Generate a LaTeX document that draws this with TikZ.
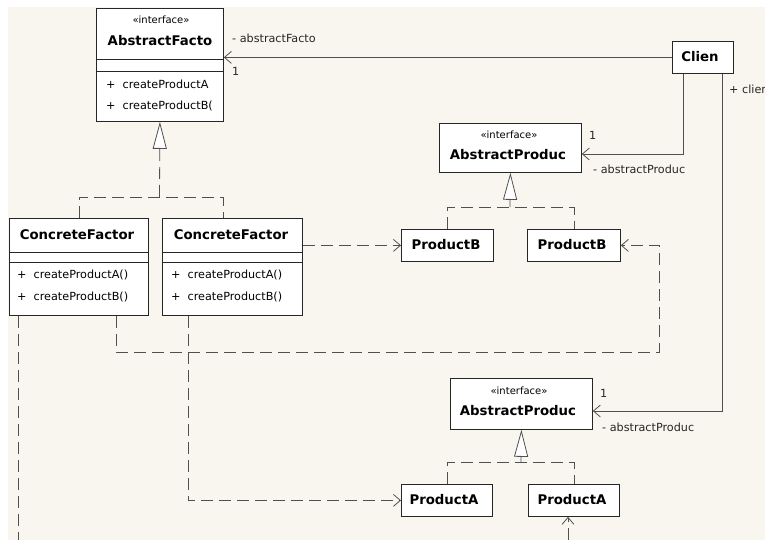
\documentclass[tikz,border=0pt]{standalone}
\usepackage{fontspec}
\setmainfont{DejaVu Sans}
\usetikzlibrary{arrows.meta}
\definecolor{bgc}{HTML}{F8F6EE}
\definecolor{linec}{HTML}{505050}
\definecolor{boxc}{HTML}{262626}
\begin{document}
\begin{tikzpicture}[x=1pt,y=-1pt,
  box/.style={draw=boxc, fill=white, line width=0.8pt, inner sep=0pt, anchor=north west},
  sepline/.style={draw=boxc, line width=0.8pt},
  title/.style={font=\fontsize{13.3}{15}\selectfont\bfseries, inner sep=0pt},
  stereo/.style={font=\fontsize{10}{12}\selectfont, inner sep=0pt},
  meth/.style={font=\fontsize{11.2}{13}\selectfont, inner sep=0pt, anchor=west},
  lbl/.style={font=\fontsize{11.2}{13}\selectfont, inner sep=0pt, anchor=west, text=black!85},
  assoc/.style={draw=linec, line width=0.8pt, -{Straight Barb[length=7pt,width=12pt]}},
  dep/.style={draw=linec, line width=0.8pt, dash pattern=on 12pt off 6pt},
  deparr/.style={dep, -{Straight Barb[length=7pt,width=12pt]}},
  gen/.style={dep, -{Triangle[length=27pt,width=14pt,fill=white]}}
]
\useasboundingbox (0,0) rectangle (765,540);
\fill[white] (0,0) rectangle (765,540);
\fill[bgc] (8,7) rectangle (765,540);

% ---------- boxes ----------
\node[box, minimum width=127pt, minimum height=113pt] (af) at (96,8) {};
\node[box, minimum width=61pt, minimum height=32pt] (cl) at (672,41) {};
\node[box, minimum width=139pt, minimum height=97pt] (cf1) at (9,218) {};
\node[box, minimum width=140pt, minimum height=97pt] (cf2) at (162,218) {};
\node[box, minimum width=142pt, minimum height=49pt] (apb) at (439,123) {};
\node[box, minimum width=92pt, minimum height=32pt] (pb2) at (401,229) {};
\node[box, minimum width=93pt, minimum height=32pt] (pb1) at (527,229) {};
\node[box, minimum width=142pt, minimum height=51pt] (apa) at (450,378) {};
\node[box, minimum width=91pt, minimum height=32pt] (pa2) at (401,484) {};
\node[box, minimum width=91pt, minimum height=32pt] (pa1) at (528,484) {};

% compartments
\draw[sepline] (af.west |- 0,59) -- (af.east |- 0,59);
\draw[sepline] (af.west |- 0,71) -- (af.east |- 0,71);
\draw[sepline] (cf1.west |- 0,252) -- (cf1.east |- 0,252);
\draw[sepline] (cf1.west |- 0,262) -- (cf1.east |- 0,262);
\draw[sepline] (cf2.west |- 0,252) -- (cf2.east |- 0,252);
\draw[sepline] (cf2.west |- 0,262) -- (cf2.east |- 0,262);

% ---------- texts ----------
\node[stereo] (af-st) at (161,20) {«interface»};
\node[title] (af-t) at (160,41) {AbstractFacto};
\node[meth] (af-m1) at (106,84) {+~ createProductA};
\node[meth] (af-m2) at (106,106) {+~ createProductB(};

\node[title] (cl-t) at (700,57) {Clien};

\node[title] (cf1-t) at (77,235) {ConcreteFactor};
\node[meth] (cf1-m1) at (17,275) {+~ createProductA()};
\node[meth] (cf1-m2) at (17,297) {+~ createProductB()};
\node[title] (cf2-t) at (231,235) {ConcreteFactor};
\node[meth] (cf2-m1) at (171,275) {+~ createProductA()};
\node[meth] (cf2-m2) at (171,297) {+~ createProductB()};

\node[stereo] (apb-st) at (509,135) {«interface»};
\node[title] (apb-t) at (508,155) {AbstractProduc};
\node[title] (pb2-t) at (446,245) {ProductB};
\node[title] (pb1-t) at (572,245) {ProductB};

\node[stereo] (apa-st) at (519,391) {«interface»};
\node[title] (apa-t) at (518,411) {AbstractProduc};
\node[title] (pa2-t) at (444,500) {ProductA};
\node[title] (pa1-t) at (572,500) {ProductA};

% ---------- associations ----------
\draw[assoc] (cl.west) -- (cl.west -| af.east);
\node[lbl] (l1) at (232,38) {- abstractFacto};
\node[lbl] (l1m) at (232,71) {1};

\draw[assoc] (cl.south -| 683,0) |- (apb.east |- 0,154);
\node[lbl] (l2m) at (589,135) {1};
\node[lbl] (l2) at (593,169) {- abstractProduc};

\draw[assoc] (cl.south -| 722,0) |- (apa.east |- 0,411);
\node[lbl] (l3c) at (729,89) {+ clier};
\node[lbl] (l3m) at (600,393) {1};
\node[lbl] (l3) at (602,427) {- abstractProduc};

% ---------- realizations ----------
\draw[dep] (cf1.north -| 79,0) -- (79,197) -- (223,197) -- (cf2.north -| 223,0);
\coordinate (j1) at (159.5,197);
\draw[gen] (j1) -- (af.south);

\coordinate (j2) at (510,207);
\draw[dep] (pb2.north) -- (pb2.north |- j2) -- (pb1.north |- j2) -- (pb1.north);
\draw[gen] (j2) -- (apb.south);

\coordinate (j3) at (521,462);
\draw[dep] (pa2.north) -- (pa2.north |- j3) -- (pa1.north |- j3) -- (pa1.north);
\draw[gen] (j3) -- (apa.south);

% ---------- dependencies ----------
\draw[deparr] (cf2.east |- pb2.west) -- (pb2.west);
\draw[deparr] (cf1.south -| 116,0) |- (659,352) |- (pb1.east);
\draw[deparr] (cf2.south -| 188,0) |- (pa2.west);
\coordinate (e1) at (18,540);
\draw[dep] (cf1.south -| e1) -- (e1);
\coordinate (e2) at (568,540);
\draw[deparr] (e2) -- (pa1.south -| e2);
\end{tikzpicture}
\end{document}
